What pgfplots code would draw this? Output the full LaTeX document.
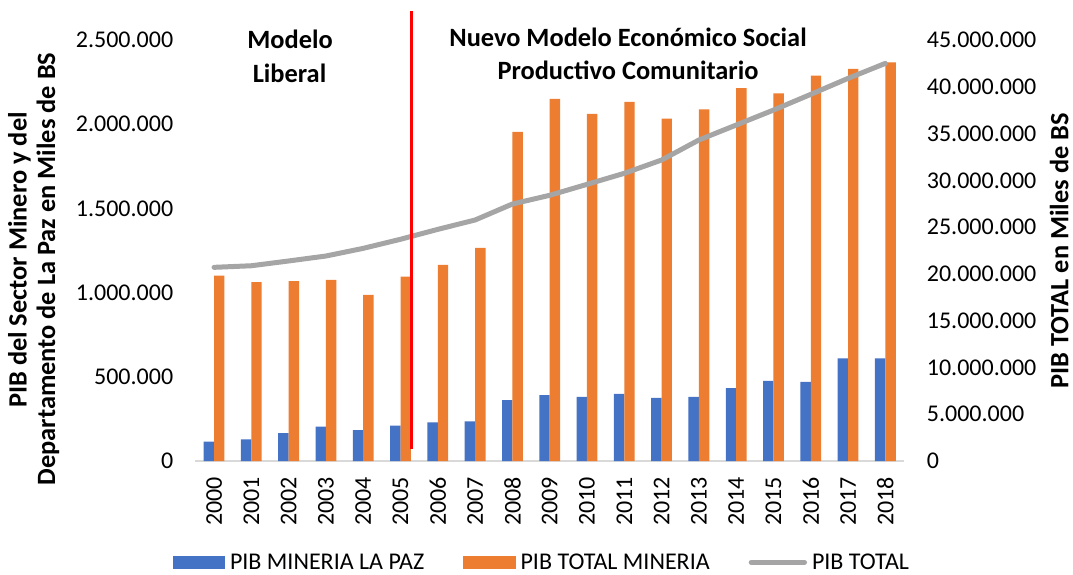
\documentclass[border=0pt]{standalone}
\usepackage{pgfplots}
\pgfplotsset{compat=1.18}
\usepackage{fontspec}
\setmainfont{Carlito}
\definecolor{cblue}{HTML}{4472C4}
\definecolor{corange}{HTML}{ED7D31}
\definecolor{cgray}{HTML}{A5A5A5}
\definecolor{axgray}{HTML}{D9D9D9}
\newcommand{\tklab}{\fontsize{24bp}{28.8bp}\selectfont}
\newcommand{\ttl}{\fontsize{26.4bp}{31.7bp}\selectfont\bfseries}
\pgfplotsset{
  barleg/.style={legend image code/.code={\fill[##1] (0bp,-6.35bp) rectangle (52.3bp,6.35bp);}},
  lineleg/.style={legend image code/.code={\path (0bp,0bp) -- (53.3bp,0bp);\draw[##1] (2.5bp,0bp) -- (50.8bp,0bp);}},
}
\begin{document}
\begin{tikzpicture}
\path[use as bounding box] (0,0) rectangle (1073bp,575bp);
% left axis with bars
\begin{axis}[
  at={(195.4bp,114bp)}, anchor=south west,
  scale only axis, width=708.6bp, height=421bp,
  xmin=1999.5, xmax=2018.5, ymin=0, ymax=2500000,
  ybar=0pt, bar width=10.4bp,
  axis x line*=bottom, axis y line*=left,
  x axis line style={draw=axgray, line width=1.7bp, -},
  y axis line style={draw=none},
  major tick length=0pt,
  xtick={2000,2001,2002,2003,2004,2005,2006,2007,2008,2009,2010,2011,2012,2013,2014,2015,2016,2017,2018},
  xticklabels={2000,2001,2002,2003,2004,2005,2006,2007,2008,2009,2010,2011,2012,2013,2014,2015,2016,2017,2018},
  xticklabel style={yshift=-16bp, rotate=90, anchor=east, inner sep=0pt, font=\tklab},
  ytick={0,500000,1000000,1500000,2000000,2500000},
  scaled y ticks=false,
  /pgf/number format/fixed,
  /pgf/number format/precision=0,
  /pgf/number format/1000 sep={.},
  /pgf/number format/assume math mode=true,
  yticklabel style={inner sep=0pt, anchor=east, xshift=-22bp, font=\tklab},
  clip=false,
]
\addplot[fill=cblue, draw=none] coordinates {
(2000,115000) (2001,129000) (2002,166000) (2003,204000) (2004,184000)
(2005,210000) (2006,229000) (2007,235000) (2008,362000) (2009,391000)
(2010,381000) (2011,399000) (2012,375000) (2013,381000) (2014,433000)
(2015,476000) (2016,470000) (2017,609000) (2018,609000)};
\addplot[fill=corange, draw=none] coordinates {
(2000,1101000) (2001,1062000) (2002,1068000) (2003,1075000) (2004,986000)
(2005,1095000) (2006,1164000) (2007,1265000) (2008,1955000) (2009,2151000)
(2010,2062000) (2011,2133000) (2012,2033000) (2013,2088000) (2014,2214000)
(2015,2183000) (2016,2289000) (2017,2329000) (2018,2367000)};
\end{axis}
% right axis with line
\begin{axis}[
  at={(195.4bp,114bp)}, anchor=south west,
  scale only axis, width=708.6bp, height=421bp,
  xmin=1999.5, xmax=2018.5, ymin=0, ymax=45000000,
  axis x line=none, axis y line*=right,
  y axis line style={draw=none},
  major tick length=0pt,
  ytick={0,5000000,10000000,15000000,20000000,25000000,30000000,35000000,40000000,45000000},
  scaled y ticks=false,
  /pgf/number format/fixed,
  /pgf/number format/precision=0,
  /pgf/number format/1000 sep={.},
  /pgf/number format/assume math mode=true,
  yticklabel style={inner sep=0pt, anchor=west, xshift=22.7bp, font=\tklab},
  clip=false,
  legend columns=3,
  legend cell align=left,
  legend style={draw=none, fill=none, at={(axis description cs:-0.032,-0.2406)}, anchor=west,
    inner sep=0pt, outer sep=0pt, row sep=0pt,
    nodes={inner sep=0pt, font=\tklab},
    /tikz/every odd column/.append style={column sep=5bp},
    /tikz/every even column/.append style={column sep=39bp}},
]
\addlegendimage{barleg, fill=cblue, draw=none}
\addlegendentry{PIB MINERIA LA PAZ}
\addlegendimage{barleg, fill=corange, draw=none}
\addlegendentry{PIB TOTAL MINERIA}
\addplot[color=cgray, line width=5bp, line cap=round, line join=round, mark=none, lineleg] coordinates {
(2000,20700000) (2001,20870000) (2002,21380000) (2003,21910000) (2004,22730000)
(2005,23700000) (2006,24760000) (2007,25760000) (2008,27470000) (2009,28400000)
(2010,29570000) (2011,30750000) (2012,32170000) (2013,34310000) (2014,35910000)
(2015,37510000) (2016,39190000) (2017,40900000) (2018,42500000)};
\addlegendentry{PIB TOTAL}
\addplot[color=red, line width=3.3bp, mark=none, forget plot] coordinates {(2005.3,1280000) (2005.3,48100000)};
\end{axis}
\node[font=\ttl, anchor=base] at (290bp,526.7bp) {Modelo};
\node[font=\ttl, anchor=base] at (289.5bp,492.3bp) {Liberal};
\node[font=\ttl, anchor=base] at (628bp,528.3bp) {Nuevo Modelo Económico Social};
\node[font=\ttl, anchor=base] at (628bp,495bp) {Productivo Comunitario};
\node[font=\ttl, rotate=90, anchor=base] at (26.7bp,315bp) {PIB del Sector Minero y del};
\node[font=\ttl, rotate=90, anchor=base] at (55bp,306bp) {Departamento de La Paz en Miles de BS};
\node[font=\ttl, rotate=90, anchor=base] at (1068.3bp,324bp) {PIB TOTAL en Miles de BS};
\end{tikzpicture}
\end{document}
